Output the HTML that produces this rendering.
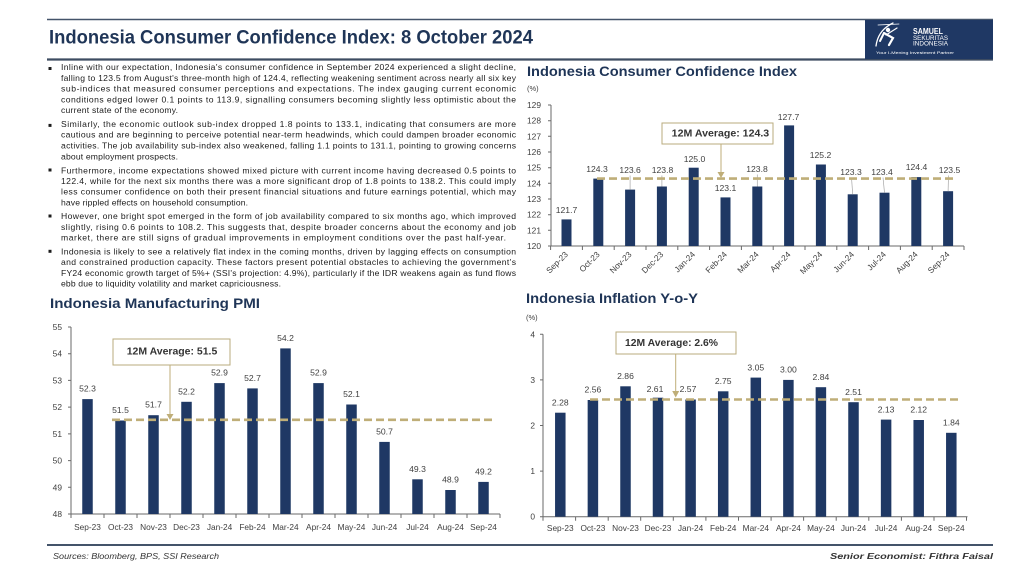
<!DOCTYPE html>
<html>
<head>
<meta charset="utf-8">
<style>
html,body{margin:0;padding:0;background:#fff;}
svg{display:block;}
.t{font-family:"Liberation Sans",Arial,sans-serif;}
.p{font-family:"Liberation Sans",Arial,sans-serif;font-size:8.6px;fill:#1c1c1c;}
.ax{stroke:#6a6a6a;stroke-width:1;fill:none;}
.bar{fill:#1f3864;}
.v{font-family:"Liberation Sans",Arial,sans-serif;font-size:8.6px;fill:#404040;text-anchor:middle;}
.xl{font-family:"Liberation Sans",Arial,sans-serif;font-size:8.3px;fill:#404040;text-anchor:middle;}
.xr{font-family:"Liberation Sans",Arial,sans-serif;font-size:8.3px;fill:#404040;text-anchor:end;}
.yl{font-family:"Liberation Sans",Arial,sans-serif;font-size:8.4px;fill:#404040;text-anchor:end;}
.ct{font-family:"Liberation Sans",Arial,sans-serif;font-size:14px;font-weight:bold;fill:#1f3557;}
.avg{stroke:#bfae78;stroke-width:2.6;stroke-dasharray:8 4;fill:none;}
.box{fill:#fff;stroke:#b9ab7e;stroke-width:1;}
.bt{font-family:"Liberation Sans",Arial,sans-serif;font-size:10.5px;font-weight:bold;fill:#333;}
.ld{stroke:#a6a6a6;stroke-width:0.7;}
</style>
</head>
<body>
<svg width="1024" height="576" viewBox="0 0 1024 576" xmlns="http://www.w3.org/2000/svg">
<rect width="1024" height="576" fill="#fff"/>

<!-- Header -->
<line x1="47" y1="19.5" x2="993" y2="19.5" stroke="#44546a" stroke-width="1.6"/>
<line x1="47" y1="59.5" x2="993" y2="59.5" stroke="#3d4c62" stroke-width="2.2"/>
<text class="t" x="49" y="43.5" font-size="19" font-weight="bold" fill="#1f3557" textLength="484" lengthAdjust="spacingAndGlyphs">Indonesia Consumer Confidence Index: 8 October 2024</text>
<rect x="865" y="20" width="128" height="39" fill="#1f3864"/>
<g stroke="#fff" fill="none" stroke-linecap="round">
<path d="M893 23 Q 878 30 876 46" stroke-width="1.3"/>
<path d="M878 25 L 899 24" stroke-width="0.8"/>
<path d="M884 33 L 893 38 L 889 45" stroke-width="2.2"/>
<path d="M884 33 L 880 41" stroke-width="2"/>
<path d="M886 35 L 897 28" stroke-width="1.2"/>
</g>
<circle cx="888" cy="30" r="2.2" fill="#fff"/>
<text class="t" x="913" y="34" font-size="8" font-weight="bold" fill="#fff" textLength="30" lengthAdjust="spacingAndGlyphs">SAMUEL</text>
<text class="t" x="913" y="40" font-size="6" fill="#fff" textLength="35" lengthAdjust="spacingAndGlyphs">SEKURITAS</text>
<text class="t" x="913" y="45.5" font-size="6" fill="#fff" textLength="35" lengthAdjust="spacingAndGlyphs">INDONESIA</text>
<text class="t" x="876" y="54" font-size="3.6" fill="#fff" textLength="78" lengthAdjust="spacingAndGlyphs">Your I-Mening Investment Partner</text>

<!-- Paragraphs -->
<g fill="#1c1c1c">
<rect x="48.5" y="67" width="3" height="3"/>
<rect x="48.5" y="123.9" width="3" height="3"/>
<rect x="48.5" y="168.5" width="3" height="3"/>
<rect x="48.5" y="214.5" width="3" height="3"/>
<rect x="48.5" y="249.8" width="3" height="3"/>
</g>
<text class="p" x="61" y="70" textLength="455" lengthAdjust="spacing">Inline with our expectation, Indonesia's consumer confidence in September 2024 experienced a slight decline,</text>
<text class="p" x="61" y="80.8" textLength="455" lengthAdjust="spacing">falling to 123.5 from August's three-month high of 124.4, reflecting weakening sentiment across nearly all six key</text>
<text class="p" x="61" y="91.6" textLength="455" lengthAdjust="spacing">sub-indices that measured consumer perceptions and expectations. The index gauging current economic</text>
<text class="p" x="61" y="102.4" textLength="455" lengthAdjust="spacing">conditions edged lower 0.1 points to 113.9, signalling consumers becoming slightly less optimistic about the</text>
<text class="p" x="61" y="113.2" textLength="117" lengthAdjust="spacing">current state of the economy.</text>

<text class="p" x="61" y="126.9" textLength="455" lengthAdjust="spacing">Similarly, the economic outlook sub-index dropped 1.8 points to 133.1, indicating that consumers are more</text>
<text class="p" x="61" y="137.7" textLength="455" lengthAdjust="spacing">cautious and are beginning to perceive potential near-term headwinds, which could dampen broader economic</text>
<text class="p" x="61" y="148.5" textLength="455" lengthAdjust="spacing">activities. The job availability sub-index also weakened, falling 1.1 points to 131.1, pointing to growing concerns</text>
<text class="p" x="61" y="159.3" textLength="117" lengthAdjust="spacing">about employment prospects.</text>

<text class="p" x="61" y="173.5" textLength="455" lengthAdjust="spacing">Furthermore, income expectations showed mixed picture with current income having decreased 0.5 points to</text>
<text class="p" x="61" y="184.1" textLength="455" lengthAdjust="spacing">122.4, while for the next six months there was a more significant drop of 1.8 points to 138.2. This could imply</text>
<text class="p" x="61" y="194.7" textLength="455" lengthAdjust="spacing">less consumer confidence on both their present financial situations and future earnings potential, which may</text>
<text class="p" x="61" y="205.3" textLength="187" lengthAdjust="spacing">have rippled effects on household consumption.</text>

<text class="p" x="61" y="219.1" textLength="455" lengthAdjust="spacing">However, one bright spot emerged in the form of job availability compared to six months ago, which improved</text>
<text class="p" x="61" y="229.8" textLength="455" lengthAdjust="spacing">slightly, rising 0.6 points to 108.2. This suggests that, despite broader concerns about the economy and job</text>
<text class="p" x="61" y="240.5" textLength="445" lengthAdjust="spacing">market, there are still signs of gradual improvements in employment conditions over the past half-year.</text>

<text class="p" x="61" y="254.4" textLength="455" lengthAdjust="spacing">Indonesia is likely to see a relatively flat index in the coming months, driven by lagging effects on consumption</text>
<text class="p" x="61" y="265.1" textLength="455" lengthAdjust="spacing">and constrained production capacity. These factors present potential obstacles to achieving the government's</text>
<text class="p" x="61" y="275.8" textLength="455" lengthAdjust="spacing">FY24 economic growth target of 5%+ (SSI's projection: 4.9%), particularly if the IDR weakens again as fund flows</text>
<text class="p" x="61" y="286.5" textLength="220" lengthAdjust="spacing">ebb due to liquidity volatility and market capriciousness.</text>

<!-- ================= CCI chart ================= -->
<text class="ct" x="527" y="76" textLength="270" lengthAdjust="spacingAndGlyphs">Indonesia Consumer Confidence Index</text>
<text class="t" x="527" y="91" font-size="7.5" fill="#404040">(%)</text>
<g class="ax">
<line x1="551" y1="105" x2="551" y2="246"/>
<line x1="551" y1="246" x2="964" y2="246"/>
<path d="M548 246H551M548 230.3H551M548 214.7H551M548 199H551M548 183.3H551M548 167.7H551M548 152H551M548 136.3H551M548 120.7H551M548 105H551"/>
<path d="M550.6 246V250M582.4 246V250M614.2 246V250M646 246V250M677.8 246V250M709.6 246V250M741.4 246V250M773.2 246V250M805 246V250M836.8 246V250M868.6 246V250M900.4 246V250M932.2 246V250M964 246V250"/>
</g>
<g>
<text class="yl" x="541" y="249">120</text>
<text class="yl" x="541" y="233.3">121</text>
<text class="yl" x="541" y="217.7">122</text>
<text class="yl" x="541" y="202">123</text>
<text class="yl" x="541" y="186.3">124</text>
<text class="yl" x="541" y="170.7">125</text>
<text class="yl" x="541" y="155">126</text>
<text class="yl" x="541" y="139.3">127</text>
<text class="yl" x="541" y="123.7">128</text>
<text class="yl" x="541" y="108">129</text>
</g>
<g class="bar">
<rect x="561.5" y="219.4" width="10" height="26.6"/>
<rect x="593.3" y="178.6" width="10" height="67.4"/>
<rect x="625.1" y="189.6" width="10" height="56.4"/>
<rect x="656.9" y="186.5" width="10" height="59.5"/>
<rect x="688.7" y="167.7" width="10" height="78.3"/>
<rect x="720.5" y="197.4" width="10" height="48.6"/>
<rect x="752.3" y="186.5" width="10" height="59.5"/>
<rect x="784.1" y="125.4" width="10" height="120.6"/>
<rect x="815.9" y="164.5" width="10" height="81.5"/>
<rect x="847.7" y="194.3" width="10" height="51.7"/>
<rect x="879.5" y="192.7" width="10" height="53.3"/>
<rect x="911.3" y="177.1" width="10" height="68.9"/>
<rect x="943.1" y="191.2" width="10" height="54.8"/>
</g>
<g>
<line class="ld" x1="630.1" y1="175.5" x2="630.1" y2="189.6"/>
<line class="ld" x1="661.9" y1="175.5" x2="661.9" y2="186.5"/>
<line class="ld" x1="757.3" y1="174.5" x2="757.3" y2="186.5"/>
<line class="ld" x1="851.5" y1="177.5" x2="852.7" y2="194.3"/>
<line class="ld" x1="883" y1="177.5" x2="884.5" y2="192.7"/>
<line class="ld" x1="948.5" y1="175.5" x2="948.1" y2="191.2"/>
</g>
<line class="avg" x1="597" y1="178.6" x2="953" y2="178.6"/>
<g>
<text class="v" x="566.5" y="213">121.7</text>
<text class="v" x="597" y="172">124.3</text>
<text class="v" x="630.1" y="173">123.6</text>
<text class="v" x="662.5" y="173">123.8</text>
<text class="v" x="694.5" y="162">125.0</text>
<text class="v" x="725.5" y="191">123.1</text>
<text class="v" x="757" y="172">123.8</text>
<text class="v" x="788.5" y="120">127.7</text>
<text class="v" x="820.5" y="158">125.2</text>
<text class="v" x="851" y="175">123.3</text>
<text class="v" x="882" y="175">123.4</text>
<text class="v" x="916.5" y="170">124.4</text>
<text class="v" x="949.5" y="173">123.5</text>
</g>
<rect class="box" x="662" y="123" width="111" height="21"/>
<text class="bt" x="671.7" y="136.5" textLength="97.5" lengthAdjust="spacingAndGlyphs">12M Average: 124.3</text>
<line x1="721" y1="144" x2="721" y2="173" stroke="#bfae78" stroke-width="1"/>
<path d="M717.5 172 L724.5 172 L721 178 Z" fill="#bfae78"/>
<g>
<text class="xr" transform="translate(568.5,255) rotate(-45)">Sep-23</text>
<text class="xr" transform="translate(600.3,255) rotate(-45)">Oct-23</text>
<text class="xr" transform="translate(632.1,255) rotate(-45)">Nov-23</text>
<text class="xr" transform="translate(663.9,255) rotate(-45)">Dec-23</text>
<text class="xr" transform="translate(695.7,255) rotate(-45)">Jan-24</text>
<text class="xr" transform="translate(727.5,255) rotate(-45)">Feb-24</text>
<text class="xr" transform="translate(759.3,255) rotate(-45)">Mar-24</text>
<text class="xr" transform="translate(791.1,255) rotate(-45)">Apr-24</text>
<text class="xr" transform="translate(822.9,255) rotate(-45)">May-24</text>
<text class="xr" transform="translate(854.7,255) rotate(-45)">Jun-24</text>
<text class="xr" transform="translate(886.5,255) rotate(-45)">Jul-24</text>
<text class="xr" transform="translate(918.3,255) rotate(-45)">Aug-24</text>
<text class="xr" transform="translate(950.1,255) rotate(-45)">Sep-24</text>
</g>

<!-- ================= PMI chart ================= -->
<text class="ct" x="50" y="308" textLength="210" lengthAdjust="spacingAndGlyphs">Indonesia Manufacturing PMI</text>
<g class="ax">
<line x1="71" y1="327" x2="71" y2="514"/>
<line x1="71" y1="514" x2="500" y2="514"/>
<path d="M68 514H71M68 487.3H71M68 460.6H71M68 433.9H71M68 407.1H71M68 380.4H71M68 353.7H71M68 327H71"/>
<path d="M71 514V518M104 514V518M137 514V518M170 514V518M203 514V518M236 514V518M269 514V518M302 514V518M335 514V518M368 514V518M401 514V518M434 514V518M467 514V518M500 514V518"/>
</g>
<g>
<text class="yl" x="62" y="517">48</text>
<text class="yl" x="62" y="490.3">49</text>
<text class="yl" x="62" y="463.6">50</text>
<text class="yl" x="62" y="436.9">51</text>
<text class="yl" x="62" y="410.1">52</text>
<text class="yl" x="62" y="383.4">53</text>
<text class="yl" x="62" y="356.7">54</text>
<text class="yl" x="62" y="330">55</text>
</g>
<g class="bar">
<rect x="82.25" y="399.1" width="10.5" height="114.9"/>
<rect x="115.25" y="420.5" width="10.5" height="93.5"/>
<rect x="148.25" y="415.2" width="10.5" height="98.8"/>
<rect x="181.25" y="401.8" width="10.5" height="112.2"/>
<rect x="214.25" y="383.1" width="10.5" height="130.9"/>
<rect x="247.25" y="388.4" width="10.5" height="125.6"/>
<rect x="280.25" y="348.4" width="10.5" height="165.6"/>
<rect x="313.25" y="383.1" width="10.5" height="130.9"/>
<rect x="346.25" y="404.5" width="10.5" height="109.5"/>
<rect x="379.25" y="441.9" width="10.5" height="72.1"/>
<rect x="412.25" y="479.3" width="10.5" height="34.7"/>
<rect x="445.25" y="490" width="10.5" height="24"/>
<rect x="478.25" y="481.9" width="10.5" height="32.1"/>
</g>
<line class="avg" x1="112" y1="419.8" x2="492" y2="419.8"/>
<g>
<text class="v" x="87.5" y="391.6">52.3</text>
<text class="v" x="120.5" y="413">51.5</text>
<text class="v" x="153.5" y="407.7">51.7</text>
<text class="v" x="186.5" y="394.3">52.2</text>
<text class="v" x="219.5" y="375.6">52.9</text>
<text class="v" x="252.5" y="380.9">52.7</text>
<text class="v" x="285.5" y="340.9">54.2</text>
<text class="v" x="318.5" y="375.6">52.9</text>
<text class="v" x="351.5" y="397">52.1</text>
<text class="v" x="384.5" y="434.4">50.7</text>
<text class="v" x="417.5" y="471.8">49.3</text>
<text class="v" x="450.5" y="482.5">48.9</text>
<text class="v" x="483.5" y="474.4">49.2</text>
</g>
<rect class="box" x="113" y="339" width="117" height="26"/>
<text class="bt" x="126.7" y="354.6" textLength="90.6" lengthAdjust="spacingAndGlyphs">12M Average: 51.5</text>
<line x1="170" y1="365" x2="170" y2="415" stroke="#bfae78" stroke-width="1"/>
<path d="M166.5 414 L173.5 414 L170 420 Z" fill="#bfae78"/>
<g>
<text class="xl" x="87.5" y="530">Sep-23</text>
<text class="xl" x="120.5" y="530">Oct-23</text>
<text class="xl" x="153.5" y="530">Nov-23</text>
<text class="xl" x="186.5" y="530">Dec-23</text>
<text class="xl" x="219.5" y="530">Jan-24</text>
<text class="xl" x="252.5" y="530">Feb-24</text>
<text class="xl" x="285.5" y="530">Mar-24</text>
<text class="xl" x="318.5" y="530">Apr-24</text>
<text class="xl" x="351.5" y="530">May-24</text>
<text class="xl" x="384.5" y="530">Jun-24</text>
<text class="xl" x="417.5" y="530">Jul-24</text>
<text class="xl" x="450.5" y="530">Aug-24</text>
<text class="xl" x="483.5" y="530">Sep-24</text>
</g>

<!-- ================= Inflation chart ================= -->
<text class="ct" x="526" y="303" textLength="172" lengthAdjust="spacingAndGlyphs">Indonesia Inflation Y-o-Y</text>
<text class="t" x="526" y="320" font-size="7.5" fill="#404040">(%)</text>
<g class="ax">
<line x1="543" y1="334.3" x2="543" y2="516.7"/>
<line x1="543" y1="516.7" x2="967.5" y2="516.7"/>
<path d="M540 516.7H543M540 471.1H543M540 425.5H543M540 379.9H543M540 334.3H543"/>
<path d="M543 516.7V520.7M575.6 516.7V520.7M608.2 516.7V520.7M640.7 516.7V520.7M673.3 516.7V520.7M705.9 516.7V520.7M738.5 516.7V520.7M771.1 516.7V520.7M803.6 516.7V520.7M836.2 516.7V520.7M868.8 516.7V520.7M901.4 516.7V520.7M934 516.7V520.7M966.5 516.7V520.7"/>
</g>
<g>
<text class="yl" x="535" y="519.7">0</text>
<text class="yl" x="535" y="474.1">1</text>
<text class="yl" x="535" y="428.5">2</text>
<text class="yl" x="535" y="382.9">3</text>
<text class="yl" x="535" y="337.3">4</text>
</g>
<g class="bar">
<rect x="555.05" y="412.7" width="10.5" height="104"/>
<rect x="587.65" y="400" width="10.5" height="116.7"/>
<rect x="620.25" y="386.3" width="10.5" height="130.4"/>
<rect x="652.75" y="397.7" width="10.5" height="119"/>
<rect x="685.35" y="399.5" width="10.5" height="117.2"/>
<rect x="717.95" y="391.3" width="10.5" height="125.4"/>
<rect x="750.55" y="377.6" width="10.5" height="139.1"/>
<rect x="783.15" y="379.9" width="10.5" height="136.8"/>
<rect x="815.65" y="387.2" width="10.5" height="129.5"/>
<rect x="848.25" y="402.2" width="10.5" height="114.5"/>
<rect x="880.85" y="419.6" width="10.5" height="97.1"/>
<rect x="913.45" y="420" width="10.5" height="96.7"/>
<rect x="946.05" y="432.8" width="10.5" height="83.9"/>
</g>
<line class="avg" x1="590" y1="399.5" x2="962" y2="399.5"/>
<g>
<text class="v" x="560.3" y="405.4">2.28</text>
<text class="v" x="592.9" y="392.5">2.56</text>
<text class="v" x="625.5" y="379">2.86</text>
<text class="v" x="655" y="392">2.61</text>
<text class="v" x="688" y="392">2.57</text>
<text class="v" x="723.2" y="384">2.75</text>
<text class="v" x="755.8" y="370.3">3.05</text>
<text class="v" x="788.4" y="372.6">3.00</text>
<text class="v" x="820.9" y="379.9">2.84</text>
<text class="v" x="853.5" y="394.9">2.51</text>
<text class="v" x="886.1" y="412.3">2.13</text>
<text class="v" x="918.7" y="412.7">2.12</text>
<text class="v" x="951.3" y="425.5">1.84</text>
</g>
<rect class="box" x="616" y="332" width="120" height="22"/>
<text class="bt" x="625" y="346" textLength="93" lengthAdjust="spacingAndGlyphs">12M Average: 2.6%</text>
<line x1="675.7" y1="354" x2="675.7" y2="392" stroke="#bfae78" stroke-width="1"/>
<path d="M672.2 391 L679.2 391 L675.7 397.5 Z" fill="#bfae78"/>
<g>
<text class="xl" x="560.3" y="531">Sep-23</text>
<text class="xl" x="592.9" y="531">Oct-23</text>
<text class="xl" x="625.5" y="531">Nov-23</text>
<text class="xl" x="658" y="531">Dec-23</text>
<text class="xl" x="690.6" y="531">Jan-24</text>
<text class="xl" x="723.2" y="531">Feb-24</text>
<text class="xl" x="755.8" y="531">Mar-24</text>
<text class="xl" x="788.4" y="531">Apr-24</text>
<text class="xl" x="820.9" y="531">May-24</text>
<text class="xl" x="853.5" y="531">Jun-24</text>
<text class="xl" x="886.1" y="531">Jul-24</text>
<text class="xl" x="918.7" y="531">Aug-24</text>
<text class="xl" x="951.3" y="531">Sep-24</text>
</g>

<!-- Footer -->
<line x1="47" y1="545" x2="993" y2="545" stroke="#44546a" stroke-width="2"/>
<text class="t" x="53" y="559" font-size="8" font-style="italic" fill="#333" textLength="166" lengthAdjust="spacingAndGlyphs">Sources: Bloomberg, BPS, SSI Research</text>
<text class="t" x="830" y="559" font-size="8" font-style="italic" font-weight="bold" fill="#333" textLength="163" lengthAdjust="spacingAndGlyphs">Senior Economist: Fithra Faisal</text>
</svg>
</body>
</html>
